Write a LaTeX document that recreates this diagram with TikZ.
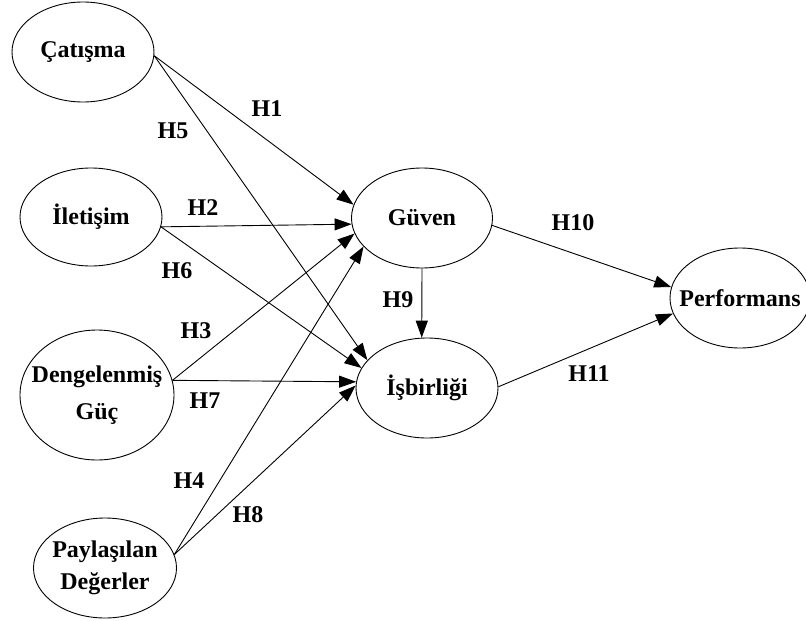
\documentclass[tikz,border=0pt]{standalone}
\usepackage{fontspec}
\setmainfont{Liberation Serif}
\usetikzlibrary{arrows.meta,shapes.geometric}
\begin{document}
\begin{tikzpicture}[x=1pt,y=-1pt,
  font=\fontsize{24}{29}\selectfont\bfseries,
  latent/.style={ellipse, draw, line width=0.9pt, inner sep=0pt},
  hyp/.style={inner sep=1pt},
  arr/.style={-{Triangle[length=17pt,width=12pt]}, line width=0.9pt}]
\clip (0,0) rectangle (806,621);
\fill[white] (0,0) rectangle (806,621);
% constructs
\node[latent, minimum width=142pt, minimum height=100pt, label={center:Çatışma}] (cat) at (83,52) {};
\node[latent, minimum width=142pt, minimum height=98pt, label={center:İletişim}] (ile) at (91,217) {};
\node[latent, minimum width=154pt, minimum height=130pt, label={[align=center]center:Dengelenmiş\\[8pt]Güç}] (den) at (97,395) {};
\node[latent, minimum width=143pt, minimum height=100pt, label={[align=center]center:Paylaşılan\\[3pt]Değerler}] (pay) at (105,568) {};
\node[latent, minimum width=141pt, minimum height=100pt, label={center:Güven}] (gu) at (422,218) {};
\node[latent, minimum width=142pt, minimum height=100pt, label={center:İşbirliği}] (isb) at (427,388) {};
\node[latent, minimum width=140pt, minimum height=100pt, label={center:Performans}] (perf) at (740,298) {};
% paths
\draw[arr] (cat.357) -- (gu.169);
\draw[arr] (cat.357) -- (isb.155);
\draw[arr] (ile.352) -- (gu.185);
\draw[arr] (ile.352) -- (isb.163);
\draw[arr] (den.11) -- (gu.193);
\draw[arr] (den.11) -- (isb.175);
\draw[arr] (pay.11) -- (gu.206);
\draw[arr] (pay.11) -- (isb.178);
\draw[arr] (gu.south) -- (isb.96);
\draw[arr] (gu.354) -- (perf.171);
\draw[arr] (isb.1) -- (perf.193);
% hypothesis labels
\node[hyp] (h1) at (267,109) {H1};
\node[hyp] (h5) at (173,131) {H5};
\node[hyp] (h2) at (203,208) {H2};
\node[hyp] (h6) at (177,271) {H6};
\node[hyp] (h3) at (196,331) {H3};
\node[hyp] (h7) at (205,401) {H7};
\node[hyp] (h4) at (189,481) {H4};
\node[hyp] (h8) at (248,515) {H8};
\node[hyp] (h9) at (398,300) {H9};
\node[hyp] (h10) at (573,223) {H10};
\node[hyp] (h11) at (589,374) {H11};
\end{tikzpicture}
\end{document}
